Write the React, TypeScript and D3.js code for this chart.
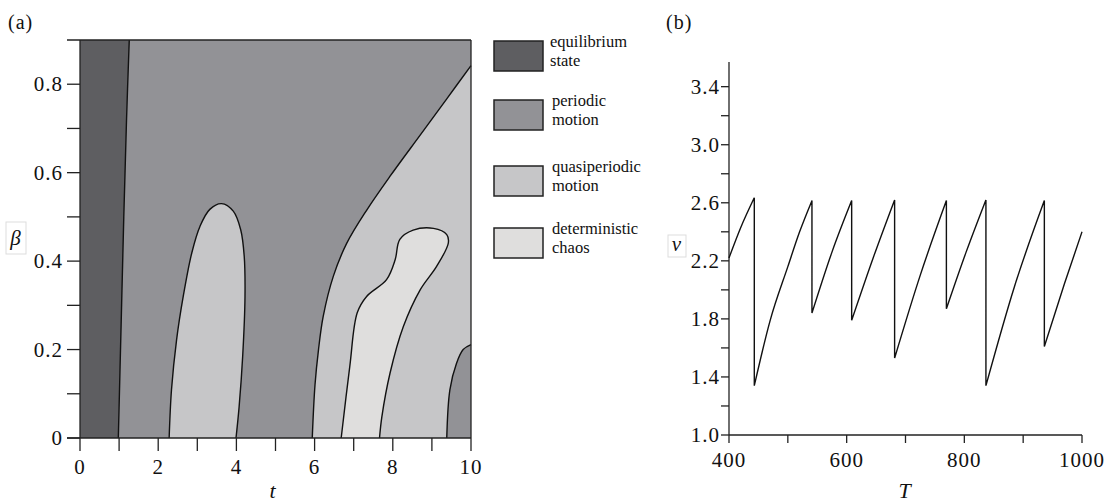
import React from "react";
import * as d3 from "d3";

// ---------- Data: panel (a) region boundaries as [t, beta] ----------
const boundaryEquilibrium: [number, number][] = [[0.98, 0], [1.05, 0.25], [1.12, 0.5], [1.19, 0.72], [1.26, 0.9]];
const boundaryQuasiMain: [number, number][] = [
  [5.94, 0], [6.01, 0.12], [6.1, 0.2], [6.22, 0.275], [6.48, 0.366], [6.82, 0.44],
  [7.33, 0.515], [7.93, 0.592], [8.7, 0.685], [9.38, 0.767], [10, 0.842],
];
const bubbleQuasi: [number, number][] = [
  [2.28, 0], [2.34, 0.109], [2.47, 0.222], [2.64, 0.32], [2.86, 0.419], [3.07, 0.479],
  [3.32, 0.517], [3.62, 0.53], [3.92, 0.513], [4.11, 0.471], [4.2, 0.411], [4.22, 0.32],
  [4.16, 0.184], [4.07, 0.071], [3.99, 0],
];
const chaosRegion: [number, number][] = [
  [6.68, 0], [6.9, 0.162], [7.09, 0.283], [7.33, 0.32], [7.84, 0.358], [8.06, 0.403],
  [8.18, 0.449], [8.52, 0.47], [9.04, 0.474], [9.38, 0.46], [9.42, 0.441], [9.12, 0.388],
  [8.7, 0.335], [8.27, 0.252], [7.93, 0.147], [7.72, 0.048], [7.66, 0],
];
const cornerPeriodic: [number, number][] = [[9.38, 0], [9.46, 0.109], [9.63, 0.169], [9.8, 0.2], [10, 0.211]];

const xTicksA = [0, 2, 4, 6, 8, 10];
const xMinorA = [1, 3, 5, 7, 9];
const yTicksA = [0, 0.2, 0.4, 0.6, 0.8];
const yMinorA = [0.1, 0.3, 0.5, 0.7];

const legendLabels: string[][] = [
  ["equilibrium", "state"],
  ["periodic", "motion"],
  ["quasiperiodic", "motion"],
  ["deterministic", "chaos"],
];

// ---------- Data: panel (b) nu vs T ----------
const seriesT = [400, 420, 443, 443, 470, 500, 520, 541, 541, 575, 608.5, 608.5, 645, 681.5, 681.5, 725, 769.5, 769.5, 803, 836.7, 836.7, 885, 936, 936, 970, 1000];
const seriesNu = [2.22, 2.43, 2.635, 1.34, 1.79, 2.16, 2.4, 2.615, 1.84, 2.26, 2.615, 1.79, 2.22, 2.62, 1.53, 2.1, 2.615, 1.87, 2.26, 2.62, 1.34, 2.02, 2.615, 1.61, 2.04, 2.4];

const xTicksB = [400, 600, 800, 1000];
const xMinorB = [500, 700, 900];
const yTicksB = [1.0, 1.4, 1.8, 2.2, 2.6, 3.0, 3.4];
const yMinorB = [1.2, 1.6, 2.0, 2.4, 2.8, 3.2];

const C_EQ = "#5e5e61";
const C_PER = "#929296";
const C_QUASI = "#c6c6c8";
const C_CHAOS = "#dfdedd";
const legendColors = [C_EQ, C_PER, C_QUASI, C_CHAOS];

const FONT = "'Liberation Serif', 'Times New Roman', serif";

export default function App() {
  const xA = d3.scaleLinear().domain([0, 10]).range([80, 471]);
  const yA = d3.scaleLinear().domain([0, 0.9]).range([438, 40]);
  const xB = d3.scaleLinear().domain([400, 1000]).range([729, 1082]);
  const yB = d3.scaleLinear().domain([1, 3.57]).range([435, 62]);

  const curveLine = d3
    .line<[number, number]>()
    .x((d) => xA(d[0]))
    .y((d) => yA(d[1]))
    .curve(d3.curveCatmullRom.alpha(0.5));

  const P = (t: number, b: number) => `L${xA(t)},${yA(b)}`;

  const eqPath = `${curveLine(boundaryEquilibrium)}${P(0, 0.9)}${P(0, 0)}Z`;
  const quasiPath = `${curveLine(boundaryQuasiMain)}${P(10, 0)}Z`;
  const bubblePath = `${curveLine(bubbleQuasi)}Z`;
  const chaosPath = `${curveLine(chaosRegion)}Z`;
  const cornerPath = `${curveLine(cornerPeriodic)}${P(10, 0)}Z`;

  // panel (b): split into rising segments (smooth) joined by vertical drops
  const pts: [number, number][] = seriesT.map((t, i) => [xB(t), yB(seriesNu[i])]);
  const segments: [number, number][][] = [];
  let cur: [number, number][] = [];
  pts.forEach((p, i) => {
    if (i > 0 && seriesT[i] === seriesT[i - 1]) {
      segments.push(cur);
      cur = [];
    }
    cur.push(p);
  });
  segments.push(cur);
  const segLine = d3.line<[number, number]>().curve(d3.curveMonotoneX);
  let nuPath = "";
  segments.forEach((s, k) => {
    const d = segLine(s) || "";
    nuPath += k === 0 ? d : "L" + d.slice(1);
  });

  const tickStyle = { fontFamily: FONT, fontSize: 21, fill: "#111", letterSpacing: 1 } as const;

  const legendTop = [41, 100, 166, 228];

  return (
    <svg
      width={1106}
      height={503}
      style={{ position: "absolute", left: 0, top: 0, background: "#fff" }}
    >
      {/* ---------- Panel (a) ---------- */}
      <text x={8} y={29} style={{ ...tickStyle, fontSize: 20 }}>(a)</text>
      <rect x={xA(0)} y={yA(0.9)} width={xA(10) - xA(0)} height={yA(0) - yA(0.9)} fill={C_PER} />
      <path d={eqPath} fill={C_EQ} />
      <path d={quasiPath} fill={C_QUASI} />
      <path d={cornerPath} fill={C_PER} />
      <path d={bubblePath} fill={C_QUASI} />
      <path d={chaosPath} fill={C_CHAOS} />
      <g fill="none" stroke="#111" strokeWidth={1.4}>
        <path d={curveLine(boundaryEquilibrium) || ""} />
        <path d={curveLine(boundaryQuasiMain) || ""} />
        <path d={curveLine(bubbleQuasi) || ""} />
        <path d={curveLine(chaosRegion) || ""} />
        <path d={curveLine(cornerPeriodic) || ""} />
      </g>
      {/* frame & axes */}
      <g stroke="#222" strokeWidth={1.3} fill="none">
        <line x1={67} y1={yA(0.9)} x2={xA(10)} y2={yA(0.9)} />
        <line x1={xA(10)} y1={yA(0.9)} x2={xA(10)} y2={yA(0)} />
        <line x1={67} y1={yA(0)} x2={xA(10)} y2={yA(0)} />
        <line x1={xA(0)} y1={yA(0.9)} x2={xA(0)} y2={yA(0)} />
        {[...xTicksA, ...xMinorA].map((t) => (
          <line key={"xa" + t} x1={xA(t)} x2={xA(t)} y1={yA(0)} y2={yA(0) + 13} />
        ))}
        {[...yTicksA, ...yMinorA].map((b) => (
          <line key={"ya" + b} x1={67} x2={xA(0)} y1={yA(b)} y2={yA(b)} />
        ))}
      </g>
      {xTicksA.map((t) => (
        <text key={"xl" + t} x={xA(t)} y={474} textAnchor="middle" style={tickStyle}>{t}</text>
      ))}
      {yTicksA.map((b) => (
        <text key={"yl" + b} x={63} y={yA(b) + 7} textAnchor="end" style={tickStyle}>{b === 0 ? "0" : b.toFixed(1)}</text>
      ))}
      <text x={273} y={498} textAnchor="middle" style={{ ...tickStyle, fontStyle: "italic", fontSize: 22 }}>t</text>
      <rect x={6} y={222} width={20} height={32} fill="none" stroke="#ddd" strokeWidth={1} />
      <text x={16} y={245} textAnchor="middle" style={{ ...tickStyle, fontStyle: "italic", fontSize: 21 }}>β</text>

      {/* ---------- Legend ---------- */}
      {legendLabels.map((lines, i) => (
        <g key={"lg" + i}>
          <rect x={494} y={legendTop[i]} width={49} height={30} fill={legendColors[i]} stroke="#222" strokeWidth={1.5} />
          {lines.map((ln, j) => (
            <text
              key={j}
              x={i === 0 ? 550 : 552}
              y={legendTop[i] + 6 + j * 19}
              style={{ fontFamily: FONT, fontSize: 16.5, fill: "#111" }}
            >
              {ln}
            </text>
          ))}
        </g>
      ))}

      {/* ---------- Panel (b) ---------- */}
      <text x={666} y={29} style={{ ...tickStyle, fontSize: 20 }}>(b)</text>
      <g stroke="#222" strokeWidth={1.3} fill="none">
        <line x1={xB(400)} y1={62} x2={xB(400)} y2={yB(1)} />
        <line x1={xB(400)} y1={yB(1)} x2={xB(1000)} y2={yB(1)} />
        {[...xTicksB, ...xMinorB].map((t) => (
          <line key={"xb" + t} x1={xB(t)} x2={xB(t)} y1={yB(1)} y2={yB(1) + 8} />
        ))}
        {[...yTicksB, ...yMinorB].map((v) => (
          <line key={"yb" + v} x1={xB(400) - 8} x2={xB(400)} y1={yB(v)} y2={yB(v)} />
        ))}
      </g>
      <path d={nuPath} fill="none" stroke="#111" strokeWidth={1.4} />
      {xTicksB.map((t) => (
        <text key={"xbl" + t} x={xB(t)} y={467} textAnchor="middle" style={tickStyle}>{t}</text>
      ))}
      {yTicksB.map((v) => (
        <text key={"ybl" + v} x={720} y={yB(v) + 7} textAnchor="end" style={tickStyle}>{v.toFixed(1)}</text>
      ))}
      <text x={905} y={498} textAnchor="middle" style={{ ...tickStyle, fontStyle: "italic", fontSize: 22 }}>T</text>
      <rect x={668} y={235} width={18} height={22} fill="none" stroke="#ddd" strokeWidth={1} />
      <text x={677} y={251} textAnchor="middle" style={{ ...tickStyle, fontStyle: "italic", fontSize: 21 }}>ν</text>
    </svg>
  );
}
